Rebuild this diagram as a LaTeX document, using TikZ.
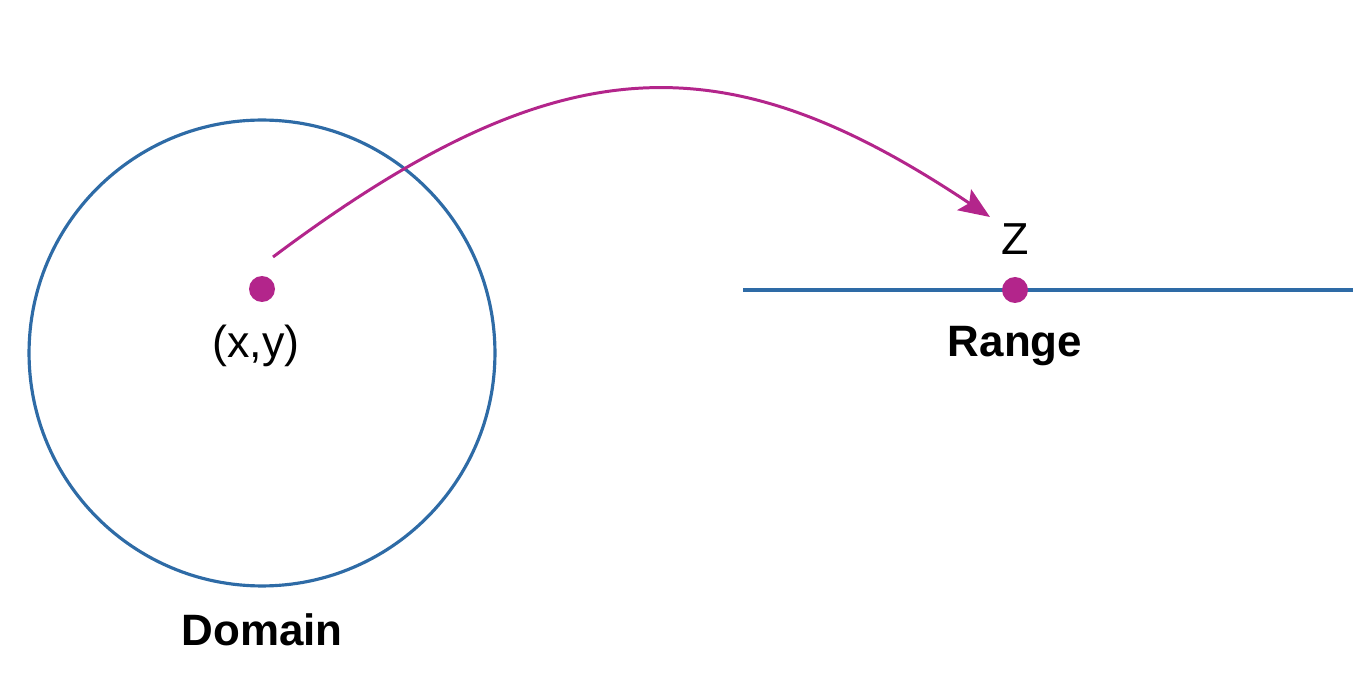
\documentclass[tikz,border=0pt]{standalone}
\usepackage{fontspec}
\setmainfont{Liberation Sans}
\usetikzlibrary{arrows.meta}
\definecolor{cblue}{HTML}{2E6BA6}
\definecolor{cmag}{HTML}{B3258B}
\begin{document}
\begin{tikzpicture}[x=0.02cm,y=-0.02cm,
  dotnode/.style={circle,fill=cmag,inner sep=0pt,minimum size=0.52cm},
  lbl/.style={font=\fontsize{25.5}{30}\selectfont,anchor=base,inner sep=0pt},
  blbl/.style={font=\fontsize{25}{30}\selectfont\bfseries,anchor=base,inner sep=0pt}]
\useasboundingbox (0,0) rectangle (1372,678);
\node[circle,draw=cblue,line width=1.8pt,minimum size=9.32cm,inner sep=0pt] (domain) at (262,353) {};
\node[dotnode] (xy) at (262,289) {};
\node[lbl] (xylbl) at (256,358) {(x,y)};
\node[blbl] (domainlbl) at (262,645) {Domain};
\coordinate (lineL) at (743,290);
\coordinate (lineR) at (1353,290);
\draw[cblue,line width=1.8pt] (lineL) -- (lineR);
\node[dotnode] (z) at (1015,290) {};
\node[lbl] (zlbl) at (1015,255) {Z};
\node[blbl] (rangelbl) at (1015,357) {Range};
\coordinate (start) at (273,257);
\coordinate (tip) at (990,217);
\draw[cmag,line width=1.7pt,-{Stealth[length=0.62cm,width=0.5cm,inset=0.12cm]}] (start) .. controls (560,42) and (725,40) .. (tip);
\end{tikzpicture}
\end{document}
